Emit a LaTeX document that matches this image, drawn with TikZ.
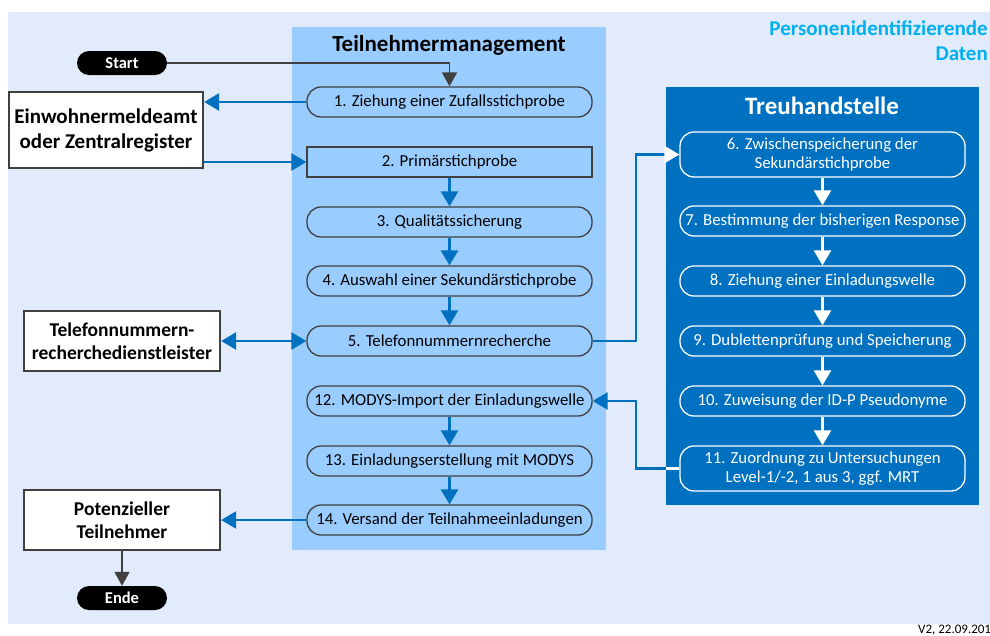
\documentclass[tikz,border=0pt]{standalone}
\usepackage{fontspec}
\setmainfont{Carlito}
\usetikzlibrary{arrows.meta,calc}
\definecolor{bgc}{RGB}{225,235,252}
\definecolor{tmc}{RGB}{153,204,255}
\definecolor{thc}{RGB}{0,112,192}
\definecolor{dgc}{RGB}{64,64,64}
\definecolor{cyc}{RGB}{0,176,240}
\tikzset{
  tmnode/.style={draw=dgc, line width=1.3pt, rounded corners=14pt, minimum width=285pt, minimum height=30pt, inner sep=0pt, font=\fontsize{16.8}{19}\selectfont, align=center},
  thnode/.style={tmnode, draw=white, text=white},
  extbox/.style={draw=dgc, fill=white, line width=2.3pt, inner sep=0pt, align=center, font=\bfseries\fontsize{19.5}{23}\selectfont},
  term/.style={fill=black, text=white, rounded corners=12pt, minimum width=90pt, minimum height=24pt, inner sep=0pt, font=\bfseries\fontsize{16.5}{18}\selectfont},
  barrow/.style={draw=thc, line width=2.6pt, -{Triangle[length=15pt,width=17pt]}},
  warrow/.style={draw=white, line width=2.6pt, -{Triangle[length=15pt,width=17pt]}},
  garrow/.style={draw=dgc, line width=1.8pt, -{Triangle[length=14pt,width=15pt]}},
  ttl/.style={font=\bfseries\fontsize{23}{26}\selectfont}
}
\begin{document}
\begin{tikzpicture}[x=1pt,y=-1pt]
\useasboundingbox (0,0) rectangle (990,635);
\fill[bgc] (8,12) rectangle (990,624);
\fill[tmc] (292,27) rectangle (606,550);
\fill[thc] (666,87) rectangle (979,505);
\coordinate (thl) at (666,87);
\coordinate (jx) at (636,0);

\node[ttl] (tmtitle) at (449,45) {Teilnehmermanagement};
\node[ttl, text=white, font=\bfseries\fontsize{25}{28}\selectfont] (thtitle) at (822,106) {Treuhandstelle};
\node[anchor=north east, align=right, text=cyc, font=\bfseries\fontsize{21}{25}\selectfont, inner sep=0pt] (pid) at (988,21) {Personenidentifizierende\\Daten};
\node[anchor=base west, inner sep=0pt, font=\fontsize{13}{15}\selectfont] (ver) at (918,633) {V2, 22.09.201};

% middle column
\node[tmnode] (t1) at (449.5,102) {1. Ziehung einer Zufallsstichprobe};
\node[tmnode, rounded corners=0pt] (t2) at (449.5,162) {2. Primärstichprobe};
\node[tmnode] (t3) at (449.5,222) {3. Qualitätssicherung};
\node[tmnode] (t4) at (449.5,281) {4. Auswahl einer Sekundärstichprobe};
\node[tmnode] (t5) at (449.5,341) {5. Telefonnummernrecherche};
\node[tmnode] (t12) at (449.5,401) {12. MODYS-Import der Einladungswelle};
\node[tmnode] (t13) at (449.5,461) {13. Einladungserstellung mit MODYS};
\node[tmnode] (t14) at (449.5,520) {14. Versand der Teilnahmeeinladungen};

% right column
\node[thnode, minimum height=45pt] (h6) at (822.5,154.5) {6. Zwischenspeicherung der\\Sekundärstichprobe};
\node[thnode] (h7) at (822.5,221) {7. Bestimmung der bisherigen Response};
\node[thnode] (h8) at (822.5,281) {8. Ziehung einer Einladungswelle};
\node[thnode] (h9) at (822.5,341) {9. Dublettenprüfung und Speicherung};
\node[thnode] (h10) at (822.5,401) {10. Zuweisung der ID-P Pseudonyme};
\node[thnode, minimum height=45pt] (h11) at (822.5,468.5) {11. Zuordnung zu Untersuchungen\\Level-1/-2, 1 aus 3, ggf. MRT};

% external boxes
\node[extbox, minimum width=194pt, minimum height=76pt, font=\bfseries\fontsize{21}{25}\selectfont] (ew) at (106,130) {Einwohnermeldeamt\\oder Zentralregister};
\node[extbox, minimum width=196pt, minimum height=60pt] (tel) at (122,341) {Telefonnummern-\\recherchedienstleister};
\node[extbox, minimum width=196pt, minimum height=60pt] (pot) at (122,520) {Potenzieller\\Teilnehmer};
\node[term] (start) at (122,63) {Start};
\node[term] (ende) at (122,598) {Ende};

% connectors
\draw[garrow] (start.east) -| (t1.north);
\draw[barrow] (t1.west) -- (t1.west -| ew.east);
\draw[barrow] (t2.west -| ew.east) -- (t2.west);
\draw[barrow] (t2) -- (t3);
\draw[barrow] (t3) -- (t4);
\draw[barrow] (t4) -- (t5);
\draw[barrow] (t12) -- (t13);
\draw[barrow] (t13) -- (t14);
\draw[barrow, {Triangle[length=15pt,width=17pt]}-{Triangle[length=15pt,width=17pt]}] (tel) -- (t5);
\draw[barrow] (t14) -- (pot);
\draw[garrow] (pot) -- (ende);
\draw[draw=thc, line width=2.6pt, -{Triangle[length=15pt,width=17pt,color=white]}] (t5.east) -- (t5.east -| jx) |- (h6.west);
\draw[barrow] (h11.west) -- (h11.west -| jx) |- (t12.east);
\draw[draw=white, line width=2.6pt] (h11.west -| thl) -- (h11.west);
\draw[warrow] (h6) -- (h7);
\draw[warrow] (h7) -- (h8);
\draw[warrow] (h8) -- (h9);
\draw[warrow] (h9) -- (h10);
\draw[warrow] (h10) -- (h11);
\end{tikzpicture}
\end{document}
